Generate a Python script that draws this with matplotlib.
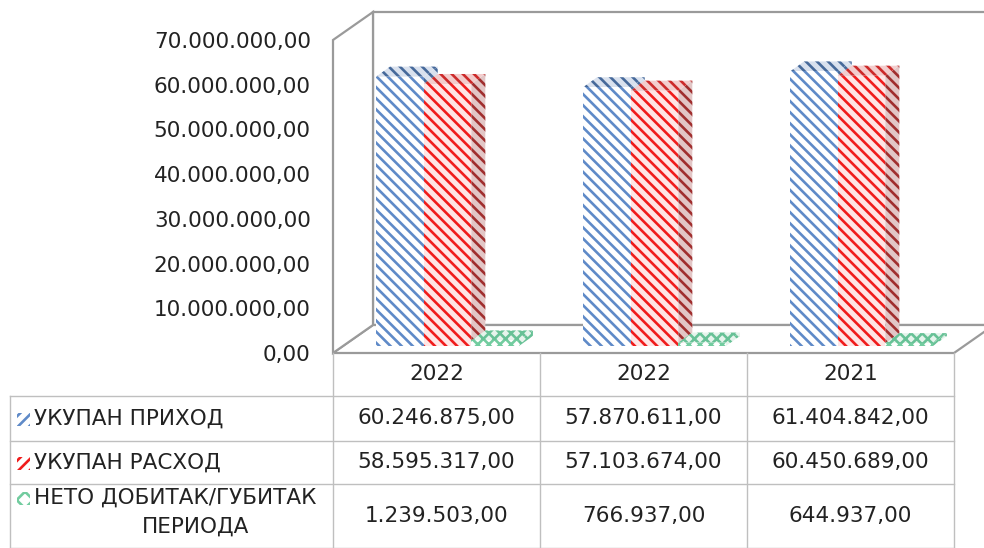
import matplotlib
matplotlib.use("Agg")
import matplotlib.pyplot as plt
import numpy as np
from matplotlib.patches import Polygon, Rectangle
from matplotlib.lines import Line2D
from matplotlib.transforms import IdentityTransform

# data
years = ["2022", "2022", "2021"]
series = ["УКУПАН ПРИХОД", "УКУПАН РАСХОД", "НЕТО ДОБИТАК/ГУБИТАК", "ПЕРИОДА"]
prihod = [60246875.00, 57870611.00, 61404842.00]
rashod = [58595317.00, 57103674.00, 60450689.00]
neto = [1239503.00, 766937.00, 644937.00]
yticks = [0, 10e6, 20e6, 30e6, 40e6, 50e6, 60e6, 70e6]


def fmt(v):
    # 60.246.875,00 style
    return f"{v:,.2f}".replace(",", " ").replace(".", ",").replace(" ", ".")


W, H = 984, 548
plt.rcParams["font.family"] = ["DejaVu Sans"]
plt.rcParams["hatch.linewidth"] = 1.9
TXT = "#222222"
FS = 15.5

fig = plt.figure(figsize=(W / 100, H / 100), dpi=100)
ax = fig.add_axes([333 / W, (H - 353) / H, (954 - 333) / W, (353 - 40) / H])
ax.set_xlim(0, 3)
ax.set_ylim(0, 70e6)
for s in ax.spines.values():
    s.set_visible(False)
ax.set_xticks([])
ax.set_yticks(yticks)
ax.set_yticklabels([fmt(v) for v in yticks])
ax.tick_params(axis="y", length=0, pad=16, labelsize=FS, labelcolor=TXT)
ax.patch.set_alpha(0)

ident = IdentityTransform()


def px(x, y):
    return ax.transData.transform((x, y))


def poly(pts, fc, hc="none", hatch=None, lw=0, ec=None, z=1):
    p = Polygon(np.array(pts), closed=True, facecolor=fc,
                edgecolor=ec if ec else hc, hatch=hatch, linewidth=lw,
                transform=ident, clip_on=False, zorder=z)
    ax.add_patch(p)
    return p


# 3D frame: back wall, floor, left wall
D = np.array([40, 28])
p00, p30, p07, p37 = px(0, 0), px(3, 0), px(0, 70e6), px(3, 70e6)
frame = "#9a9a9a"
poly([p00 + D, p30 + D, p37 + D, p07 + D], "white", ec=frame, lw=1.6, z=1)
poly([p00, p30, p30 + D, p00 + D], "white", ec=frame, lw=1.6, z=1)
poly([p00, p07, p07 + D, p00 + D], "white", ec=frame, lw=1.6, z=1)

# bars
F = np.array([11, 7])     # offset of bar front face into the floor
B = np.array([14, 10])    # bar depth
bw = 0.23
styles = [
    # front fc, front hatch color, top fc, top hatch, side fc, side hatch, hatch, key hatch
    ("#ffffff", "#5f8ac8", "#d9e1ee", "#46699a", "#d9e1ee", "#46699a", "\\\\\\", "///"),
    ("#ffe6e6", "#f01c1c", "#f3cdcd", "#cc2a2a", "#e2c6c6", "#a02e2e", "\\\\\\", "///"),
    ("#ffffff", "#72cc9f", "#e6f4ec", "#67c196", "#e6f4ec", "#67c196", "xxx", "xx"),
]
values = [prihod, rashod, neto]
for i in range(len(years)):
    c = i + 0.5
    for j, vals in enumerate(values):
        x0 = c + (j - 1.5) * bw
        x1 = x0 + bw
        v = vals[i]
        ffc, fhc, tfc, thc, sfc, shc, hat, _ = styles[j]
        a, b = px(x0, 0) + F, px(x1, 0) + F
        cc, d = px(x1, v) + F, px(x0, v) + F
        # side
        poly([b, b + B, cc + B, cc], sfc, shc, hat, z=3 + j)
        # top
        poly([d, cc, cc + B, d + B], tfc, thc, hat, z=3 + j)
        # front
        poly([a, b, cc, d], ffc, fhc, hat, z=3 + j)

# data table
cols = [px(k, 0)[0] for k in range(4)]
rows = [353, 396, 441, 484, 548]
left = 10
grid = "#bfbfbf"


def hline(x0, x1, y):
    fig.add_artist(Line2D([x0, x1], [H - y, H - y], color=grid, lw=1,
                          transform=ident))


def vline(x, y0, y1):
    fig.add_artist(Line2D([x, x], [H - y0, H - y1], color=grid, lw=1,
                          transform=ident))


for y in rows[1:]:
    hline(left, cols[-1], y)
vline(left, rows[1], rows[-1])
for x in cols:
    vline(x, rows[0], rows[-1])

ycent = [(rows[k] + rows[k + 1]) / 2 for k in range(4)]
for k, yr in enumerate(years):
    xc = (cols[k] + cols[k + 1]) / 2
    fig.text(xc / W, 1 - ycent[0] / H, yr, ha="center", va="center",
             fontsize=FS, color=TXT)
    for r, vals in enumerate(values):
        fig.text(xc / W, 1 - ycent[r + 1] / H, fmt(vals[k]), ha="center",
                 va="center", fontsize=FS, color=TXT)

# row labels with legend keys
label_y = [ycent[1], ycent[2], 498]
for r in range(3):
    ffc, fhc, *_, khat = styles[r]
    fig.add_artist(Rectangle((17, H - label_y[r] - 7), 13, 13, facecolor="white",
                             edgecolor=fhc, hatch=khat, lw=0, transform=ident))
    fig.text(34 / W, 1 - label_y[r] / H, series[r], ha="left", va="center",
             fontsize=FS, color=TXT)
fig.text(196 / W, 1 - 527 / H, series[3], ha="center", va="center",
         fontsize=FS, color=TXT)

fig.savefig("out.png", dpi=100)
